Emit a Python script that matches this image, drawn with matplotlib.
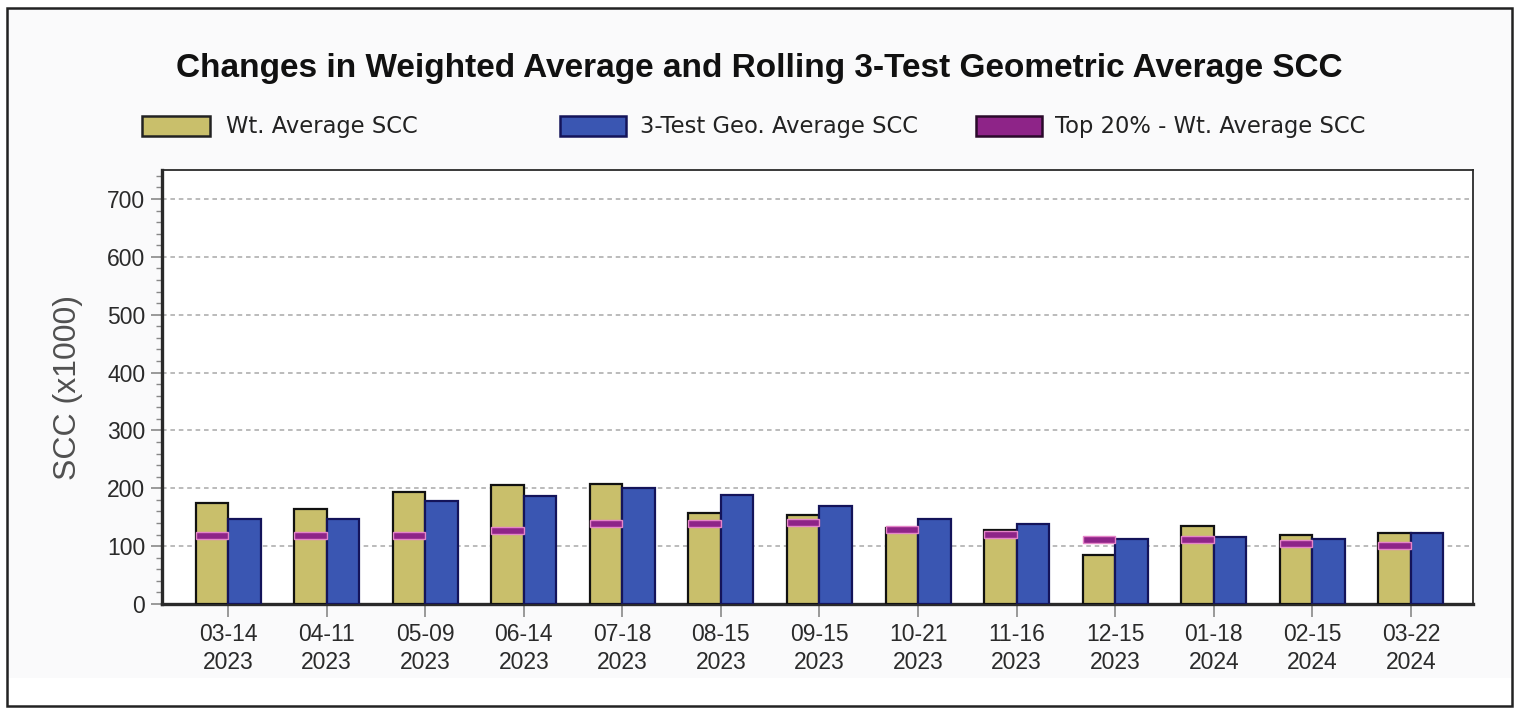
import matplotlib
matplotlib.use("Agg")
import matplotlib.pyplot as plt
from matplotlib.patches import Rectangle
from matplotlib.ticker import MultipleLocator
import numpy as np

# ---- data ----
dates = ["03-14", "04-11", "05-09", "06-14", "07-18", "08-15", "09-15",
         "10-21", "11-16", "12-15", "01-18", "02-15", "03-22"]
years = ["2023", "2023", "2023", "2023", "2023", "2023", "2023",
         "2023", "2023", "2023", "2024", "2024", "2024"]
wt_avg = [174, 165, 193, 205, 208, 158, 154, 132, 128, 85, 135, 119, 123]
geo_avg = [147, 147, 178, 186, 201, 189, 170, 147, 139, 112, 116, 112, 123]
top20 = [119, 119, 119, 127, 139, 139, 141, 129, 120, 112, 112, 104, 101]

title = "Changes in Weighted Average and Rolling 3-Test Geometric Average SCC"
legend_labels = ["Wt. Average SCC", "3-Test Geo. Average SCC", "Top 20% - Wt. Average SCC"]
ylabel = "SCC (x1000)"

# ---- style ----
c_wt = "#c9bf6b"
c_geo = "#3a56b2"
c_top = "#8e2488"
c_top_edge = "#e585c8"

W, H = 1517, 712
fig = plt.figure(figsize=(W / 100, H / 100), dpi=100)
fig.patch.set_facecolor("white")

# background panel and outer border
fig.add_artist(Rectangle((7 / W, 1 - 678 / H), (1512 - 7) / W, (678 - 8) / H,
                         transform=fig.transFigure, facecolor="#fafafb",
                         edgecolor="none", zorder=-10))
fig.add_artist(Rectangle((7 / W, 1 - 706 / H), (1512 - 7) / W, (706 - 8) / H,
                         transform=fig.transFigure, facecolor="none",
                         edgecolor="#222222", linewidth=1.8, zorder=10))

ax = fig.add_axes([162 / W, 1 - 604 / H, (1473 - 162) / W, (604 - 170) / H])
ax.set_facecolor("white")

x = np.arange(len(dates))
bw = 0.33
ax.bar(x - bw / 2, wt_avg, width=bw, color=c_wt, edgecolor="#111111",
       linewidth=1.6, zorder=3)
ax.bar(x + bw / 2, geo_avg, width=bw, color=c_geo, edgecolor="#14145a",
       linewidth=1.6, zorder=3)
mh = 12
ax.bar(x - bw / 2, [mh] * len(top20), bottom=[v - mh / 2 for v in top20],
       width=bw, color=c_top, edgecolor=c_top_edge, linewidth=1.0, zorder=4)

ax.set_xlim(-0.67, 12.63)
ax.set_ylim(0, 750)
ax.yaxis.set_major_locator(MultipleLocator(100))
ax.yaxis.set_minor_locator(MultipleLocator(20))
ax.set_yticks(range(0, 701, 100))
ax.set_xticks(x)
ax.set_xticklabels([f"{d}\n{y}" for d, y in zip(dates, years)], linespacing=1.25)

for lab in ax.get_xticklabels() + ax.get_yticklabels():
    lab.set_fontfamily("Liberation Sans")
    lab.set_fontsize(16.5)
    lab.set_color("#2a2a2a")

ax.tick_params(axis="x", length=9, width=1.2, color="#888888", pad=5)
ax.tick_params(axis="y", which="major", length=8, width=1.2, color="#888888", pad=4)
ax.tick_params(axis="y", which="minor", length=4, width=1.0, color="#888888")

ax.grid(axis="y", which="major", linestyle=(0, (3, 2.5)), color="#a8a8a8",
        linewidth=1.1, zorder=0)
ax.set_axisbelow(True)

for s in ["left", "bottom"]:
    ax.spines[s].set_linewidth(2.4)
    ax.spines[s].set_color("#2a2a2a")
for s in ["top", "right"]:
    ax.spines[s].set_linewidth(1.3)
    ax.spines[s].set_color("#2a2a2a")

fig.text(68 / W, 1 - 387 / H, ylabel, rotation=90, ha="center", va="center",
         family="Liberation Sans", fontsize=23, color="#505050")

# title
fig.text(759 / W, 1 - 68 / H, title, ha="center", va="center",
         family="Liberation Sans", fontweight="bold",
         fontsize=24, color="#111111")

# manual legend
leg_items = [(142, 210, c_wt, "#222222", 226),
             (560, 626, c_geo, "#14145a", 640),
             (976, 1042, c_top, "#2a0a2a", 1055)]
for (x0, x1, fc, ec, tx), lab in zip(leg_items, legend_labels):
    fig.add_artist(Rectangle((x0 / W, 1 - 136 / H), (x1 - x0) / W, 20 / H,
                             transform=fig.transFigure, facecolor=fc,
                             edgecolor=ec, linewidth=1.8))
    fig.text(tx / W, 1 - 126 / H, lab, ha="left", va="center",
             family="DejaVu Sans", fontsize=16.3, color="#222222")

fig.savefig("out.png", dpi=100, facecolor=fig.get_facecolor())
